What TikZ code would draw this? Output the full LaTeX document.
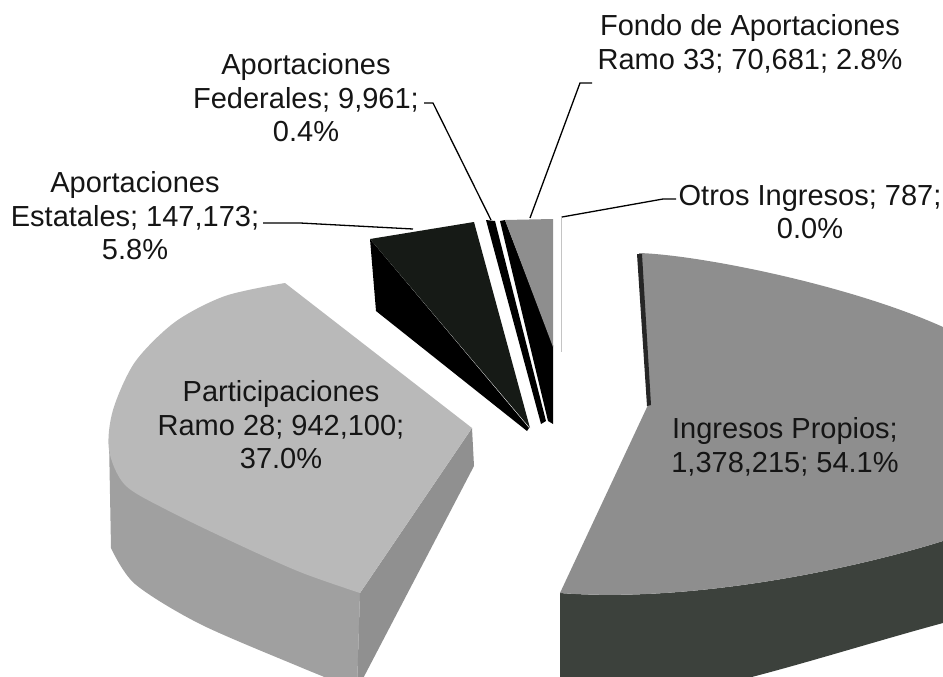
\documentclass[tikz,border=0pt]{standalone}
\usepackage{fontspec}
\setmainfont{Liberation Sans}
\definecolor{txt}{HTML}{151515}
\definecolor{partop}{HTML}{B9B9B9}
\definecolor{parwall}{HTML}{A0A0A0}
\definecolor{parside}{HTML}{909090}
\definecolor{ingtop}{HTML}{8E8E8E}
\definecolor{ingwall}{HTML}{3C413C}
\definecolor{esttop}{HTML}{161A16}
\definecolor{fontop}{HTML}{8E8E8E}
\definecolor{otros}{HTML}{C4C4C4}
\begin{document}
\begin{tikzpicture}[x=1pt,y=-1pt,
  lbl/.style={align=center,font=\fontsize{29}{33.5}\selectfont,text=txt,inner sep=0pt},
  lead/.style={draw=black,line width=1.3pt}]
\useasboundingbox (0,0) rectangle (943,677);
\begin{scope}
\clip (0,0) rectangle (943,677);
% Participaciones Ramo 28
\fill[parwall] (109,440) -- (360,593) -- (357,690) -- plot[smooth] coordinates {(357,690) (300,667) (200,624) (135,584) (111,548)} -- cycle;
\fill[parside] (360,593) -- (472,428) -- (474,466) -- (357,690) -- cycle;
\fill[partop] (472,428) -- plot[smooth] coordinates {(360,593) (300,572) (233,542) (167,510) (125,485) (109,450) (113,410) (135,362) (175,322) (225,296) (285,283)} -- cycle;
% Aportaciones Estatales
\fill[black] (370,239) -- (529,428) -- (527,431) -- (376,311) -- cycle;
\fill[esttop] (370,239) -- (474,222) -- (530,428) -- cycle;
% Aportaciones Federales
\fill[black] (486,220) -- (495,221) -- (546,421) -- (541,424) -- cycle;
% Fondo de Aportaciones Ramo 33
\fill[black] (500,221) -- (505,220) -- (553,345) -- (553,424) -- (548,421) -- cycle;
\fill[fontop] (505,220) -- (553,219) -- (553,347) -- cycle;
% Otros Ingresos
\draw[otros,line width=1pt] (561,216) -- (561,352);
% Ingresos Propios
\fill[ingwall] (560,593) .. controls (690,603) and (850,570) .. (943,541) -- (943,623) .. controls (880,640) and (800,665) .. (740,680) -- (560,680) -- cycle;
\fill[ingtop] (648,405) -- (639,253) .. controls (700,255) and (850,285) .. (943,327) -- (943,541) .. controls (850,570) and (690,603) .. (560,593) -- cycle;
\fill[black!85] (637,254) -- (642,254) -- (651,405) -- (647,406) -- cycle;
\end{scope}
% labels
\node[lbl] (fondo) at (750,44) {Fondo de Aportaciones\\Ramo 33; 70,681; 2.8\%};
\node[lbl] (fed) at (306,98) {Aportaciones\\Federales; 9,961;\\0.4\%};
\node[lbl] (est) at (135,216) {Aportaciones\\Estatales; 147,173;\\5.8\%};
\node[lbl] (otr) at (810,212) {Otros Ingresos; 787;\\0.0\%};
\node[lbl] (par) at (281,425) {Participaciones\\Ramo 28; 942,100;\\37.0\%};
\node[lbl] (ing) at (785,447) {Ingresos Propios;\\1,378,215; 54.1\%};
% leader lines
\coordinate (estA) at (263,223);
\coordinate (estK) at (300,223);
\coordinate (estB) at (413,229);
\coordinate (fedA) at (424,103);
\coordinate (fedK) at (433,103);
\coordinate (fedB) at (491,220);
\coordinate (fonA) at (592,83);
\coordinate (fonK) at (580,83);
\coordinate (fonB) at (530,218);
\coordinate (otrA) at (676,199);
\coordinate (otrK) at (663,199);
\coordinate (otrB) at (562,217);
\draw[lead] (estA) -- (estK) -- (estB);
\draw[lead] (fedA) -- (fedK) -- (fedB);
\draw[lead] (fonA) -- (fonK) -- (fonB);
\draw[lead] (otrA) -- (otrK) -- (otrB);
\end{tikzpicture}
\end{document}
